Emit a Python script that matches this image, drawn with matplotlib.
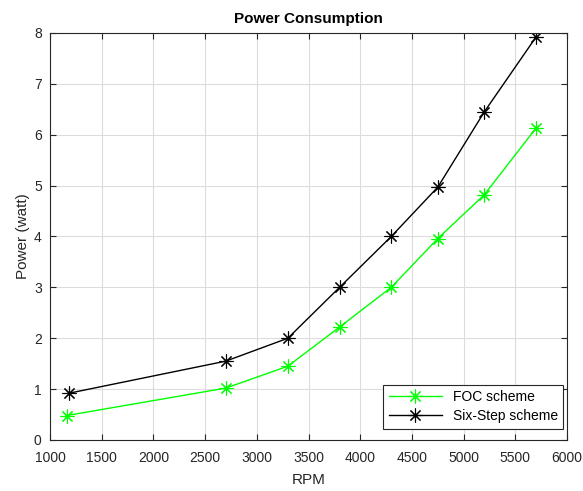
import matplotlib.pyplot as plt
import numpy as np

plt.rcParams['font.family'] = ['Liberation Sans', 'DejaVu Sans']

rpm_foc = [1160, 2700, 3300, 3800, 4300, 4750, 5200, 5700]
power_foc = [0.48, 1.02, 1.45, 2.22, 3.0, 3.96, 4.82, 6.13]
rpm_six = [1185, 2700, 3300, 3800, 4300, 4750, 5200, 5700]
power_six = [0.92, 1.55, 2.0, 3.0, 4.0, 4.97, 6.45, 7.92]

fig = plt.figure(figsize=(5.83, 4.91), dpi=100)
ax = fig.add_axes([0.0858, 0.1039, 0.8868, 0.8289])

asterisk = (8, 2, 0)
ax.plot(rpm_foc, power_foc, color='#00ff00', marker=asterisk, markersize=10,
        markeredgewidth=0.8, lw=1, label='FOC scheme')
ax.plot(rpm_six, power_six, color='black', marker=asterisk, markersize=10,
        markeredgewidth=0.8, lw=1, label='Six-Step scheme')

ax.set_xlim(1000, 6000)
ax.set_ylim(0, 8)
ax.set_xticks(np.arange(1000, 6001, 500))
ax.set_yticks(np.arange(0, 9, 1))
ax.grid(True, color='#dcdcdc', lw=0.8)
ax.tick_params(direction='in', top=True, right=True, labelsize=10, length=4,
               colors='#262626')
ax.tick_params(axis='x', pad=8)
ax.tick_params(axis='y', pad=6)
for s in ax.spines.values():
    s.set_color('#262626')
    s.set_linewidth(0.8)

ax.set_xlabel('RPM', fontsize=11, color='#262626', labelpad=6)
ax.set_ylabel('Power (watt)', fontsize=11, color='#262626', labelpad=3)
ax.set_title('Power Consumption', fontsize=11, fontweight='bold', pad=7)

leg = ax.legend(loc='lower right', bbox_to_anchor=(0.993, 0.028), fontsize=10,
                fancybox=False, framealpha=1, edgecolor='#262626',
                handlelength=3.8, borderaxespad=0, labelspacing=0.35)
leg.get_frame().set_linewidth(0.8)

fig.savefig('out.png', dpi=100)
